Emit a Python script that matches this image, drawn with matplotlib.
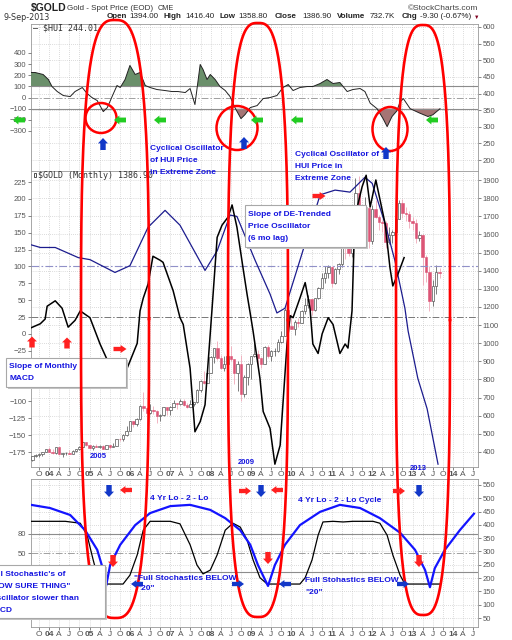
import numpy as np
import matplotlib.pyplot as plt
from matplotlib.patches import Ellipse, Rectangle, Polygon

plt.rcParams['font.family'] = ['Liberation Sans', 'DejaVu Sans']

# ---------------- data ----------------
# $HUI cyclical oscillator (top panel, left scale)
hui_t = [2003.55, 2003.65, 2003.85, 2003.98, 2004.07, 2004.20, 2004.35, 2004.52, 2004.64,
         2004.82, 2004.94, 2005.06, 2005.19, 2005.34, 2005.44, 2005.58, 2005.68, 2005.76,
         2005.88, 2006.00, 2006.13, 2006.25, 2006.38, 2006.50, 2006.67, 2006.87, 2007.04,
         2007.19, 2007.37, 2007.49, 2007.61, 2007.74, 2007.81, 2007.91, 2007.99, 2008.11,
         2008.23, 2008.36, 2008.48, 2008.60, 2008.75, 2008.85, 2008.98, 2009.15, 2009.30,
         2009.47, 2009.64, 2009.79, 2009.92, 2010.04, 2010.21, 2010.39, 2010.53, 2010.71,
         2010.88, 2011.03, 2011.20, 2011.38, 2011.52, 2011.70, 2011.82, 2011.95, 2012.12,
         2012.27, 2012.37, 2012.49, 2012.61, 2012.69, 2012.77, 2012.94, 2013.18, 2013.38,
         2013.50, 2013.68]
hui_osc = [225, 225, 207, 162, 99, 54, 18, 9, 54,
           90, 36, 0, -27, -126, -90, 27, 108, 90,
           162, 288, 207, 225, 108, 90, 72, 63, 54,
           54, 45, 81, -63, 297, 252, 162, 207, 162,
           99, 63, 9, -90, -189, -153, -90, -72, -9,
           0, 18, 90, 117, 63, 90, 99, 99, 126,
           162, 126, 135, 54, 72, 81, 54, -50, -100,
           -190, -261, -170, -120, -40, -9, -100, -140, -170,
           -155, -100]

# slope of de-trended price oscillator (blue, middle panel, left scale)
dpo_t = [2003.55, 2003.78, 2004.15, 2004.72, 2005.01, 2005.63, 2006.00, 2006.45, 2006.87,
         2007.24, 2007.86, 2008.16, 2008.48, 2008.65, 2009.10, 2009.47, 2009.64, 2009.84,
         2010.21, 2010.71, 2011.08, 2011.45, 2011.82, 2012.00, 2012.32, 2012.56, 2012.81,
         2012.89, 2013.13, 2013.36, 2013.63]
dpo_v = [132, 128, 128, 113, 110, 91, 101, 158, 183,
         161, 94, 123, 176, 174, 109, 59, 31, 38,
         109, 206, 213, 210, 232, 223, 163, 109, 38,
         4, -66, -111, -193]

# slope of monthly MACD (black, middle panel, left scale)
macd_t = [2003.55, 2003.78, 2003.90, 2003.95, 2004.15, 2004.32, 2004.47, 2004.64, 2004.77,
          2005.01, 2005.26, 2005.60, 2005.93, 2006.18, 2006.25, 2006.33, 2006.45, 2006.57,
          2006.75, 2006.82, 2007.07, 2007.24, 2007.32, 2007.49, 2007.61, 2007.74, 2007.86,
          2008.03, 2008.16, 2008.28, 2008.43, 2008.53, 2008.65, 2008.80, 2008.90, 2008.98,
          2009.05, 2009.22, 2009.30, 2009.47, 2009.59, 2009.72, 2009.89, 2009.97, 2010.04,
          2010.21, 2010.34, 2010.46, 2010.53, 2010.66, 2010.76, 2010.91, 2011.03, 2011.20,
          2011.33, 2011.40, 2011.50, 2011.57, 2011.75, 2011.85, 2011.95, 2012.09, 2012.32,
          2012.44, 2012.51, 2012.64, 2012.79]
macd_v = [9, 15, 22, 41, 49, 38, 10, 20, 34,
          24, -15, -60, -51, -14, 34, 53, 74, 115,
          109, 106, 64, 24, 14, -51, -145, -130, -105,
          34, 143, 161, 173, 191, 158, 98, 59, 30,
          4, -66, -115, -140, -193, -165, -15, 27, 24,
          53, 76, 38, -15, -29, 0, 24, 14, -29,
          -15, -21, 34, 173, 218, 235, 188, 228, 163,
          98, 71, 89, 113]

# monthly gold candles, Aug 2003 .. Sep 2013 (right scale)
gold_first_month = (2003, 8)
gold_first_open = 354
gold_close = [375, 385, 386, 398, 417,
              400, 396, 426, 387, 394, 394, 391, 408, 416, 429, 453, 438,
              422, 435, 428, 435, 417, 437, 429, 433, 473, 470, 495, 517,
              569, 556, 582, 654, 643, 614, 633, 624, 599, 604, 646, 632,
              650, 669, 663, 680, 659, 650, 665, 673, 743, 789, 783, 834,
              923, 972, 916, 863, 886, 930, 913, 833, 884, 718, 816, 884,
              928, 942, 916, 883, 979, 927, 955, 955, 1008, 1040, 1182, 1097,
              1081, 1118, 1113, 1180, 1212, 1244, 1181, 1248, 1307, 1359, 1386, 1421,
              1333, 1411, 1439, 1556, 1536, 1500, 1628, 1826, 1620, 1722, 1746, 1566,
              1740, 1697, 1669, 1664, 1561, 1598, 1615, 1687, 1776, 1719, 1713, 1675,
              1664, 1579, 1596, 1476, 1393, 1234, 1313, 1395, 1387]
gold_high = [377, 390, 392, 400, 417,
             427, 418, 429, 427, 396, 400, 409, 410, 417, 431, 455, 456,
             439, 437, 445, 437, 436, 441, 438, 447, 474, 479, 497, 541,
             570, 573, 586, 659, 730, 647, 665, 655, 633, 612, 649, 644,
             654, 689, 669, 693, 690, 671, 684, 675, 745, 795, 845, 840,
             932, 975, 1011, 934, 930, 934, 987, 914, 900, 935, 824, 888,
             931, 1006, 962, 924, 982, 989, 960, 973, 1024, 1070, 1195, 1226,
             1161, 1127, 1140, 1181, 1249, 1265, 1244, 1248, 1310, 1388, 1424, 1431,
             1424, 1414, 1445, 1569, 1577, 1556, 1632, 1913, 1921, 1764, 1805, 1764,
             1764, 1791, 1710, 1680, 1672, 1640, 1627, 1694, 1789, 1795, 1754, 1727,
             1697, 1684, 1617, 1605, 1488, 1425, 1348, 1434, 1416]
gold_low = [351, 372, 370, 379, 398,
            399, 390, 390, 383, 372, 383, 389, 386, 400, 411, 425, 431,
            418, 411, 425, 421, 414, 414, 418, 428, 433, 463, 458, 488,
            516, 536, 543, 574, 624, 543, 607, 610, 560, 570, 600, 605,
            603, 647, 636, 660, 652, 642, 646, 652, 668, 731, 775, 781,
            833, 888, 910, 860, 848, 862, 904, 774, 736, 681, 705, 772,
            801, 925, 866, 865, 883, 920, 904, 930, 950, 999, 1040, 1075,
            1076, 1045, 1088, 1112, 1162, 1195, 1157, 1176, 1243, 1308, 1331, 1359,
            1309, 1327, 1382, 1422, 1463, 1481, 1478, 1618, 1535, 1603, 1670, 1523,
            1545, 1690, 1627, 1612, 1527, 1547, 1555, 1583, 1684, 1690, 1672, 1636,
            1626, 1555, 1562, 1321, 1338, 1180, 1207, 1272, 1359]

# full stochastics (black) and 4 yr low-to-low cycle (blue), bottom panel
stoch_t = [2003.55, 2004.40, 2004.77, 2004.94, 2005.09, 2005.19, 2005.26, 2005.83, 2006.00,
           2006.18, 2006.33, 2006.50, 2007.00, 2007.24, 2007.49, 2007.66, 2007.81, 2007.99,
           2008.16, 2008.36, 2008.55, 2008.73, 2008.90, 2009.05, 2009.22, 2009.40, 2010.21,
           2010.34, 2010.51, 2010.66, 2010.78, 2011.03, 2011.28, 2011.52, 2012.02, 2012.19,
           2012.37, 2012.51, 2012.69, 2012.81, 2013.68]
stoch_v = [100, 100, 97, 78, 39, 15, 1, 1, 15,
           47, 86, 100, 100, 96, 63, 31, 17, 23,
           47, 86, 97, 91, 71, 39, 11, 1, 1,
           11, 39, 78, 99, 100, 99, 100, 100, 97,
           78, 47, 15, 1, 1]
cycle_t = [2003.55, 2004.02, 2004.52, 2004.89, 2005.19, 2005.34, 2005.41, 2005.51, 2005.76,
           2006.13, 2006.50, 2007.00, 2007.49, 2007.99, 2008.36, 2008.73, 2008.98, 2009.17,
           2009.42, 2009.59, 2009.84, 2010.21, 2010.71, 2011.20, 2011.70, 2012.19, 2012.69,
           2013.06, 2013.31, 2013.43, 2013.55, 2013.80, 2014.17, 2014.52]
cycle_v = [126, 121, 110, 86, 55, 23, -2, 31, 63,
           94, 113, 124, 126, 118, 105, 86, 63, 31,
           -2, 31, 63, 94, 115, 126, 121, 105, 82,
           55, 23, -4, 26, 55, 86, 112]

# ---------------- figure ----------------
W, H = 512, 640
fig = plt.figure(figsize=(W / 100, H / 100), dpi=100)
fig.patch.set_facecolor('white')

X0, X1 = 2003.55, 2014.62
LEFT, RIGHT = 31, 478
qticks = np.arange(2003.75, 2014.6, 0.25)
qlabels = []
for t in qticks:
    yr = int(np.floor(t + 1e-6))
    q = int(round((t - yr) * 4))
    qlabels.append(['%02d' % (yr % 100), 'A', 'J', 'O'][q])

TXT = '#555555'
DASHDOT = (0, (7, 2, 1.5, 2))


def panel(top, bottom, rlim, rticks, llim, lticks, xlabels):
    ax = fig.add_axes([LEFT / W, 1 - bottom / H, (RIGHT - LEFT) / W, (bottom - top) / H])
    tw = ax.twinx()
    ax.set_xlim(X0, X1)
    ax.set_ylim(*rlim)
    ax.set_yticks(rticks)
    ax.yaxis.tick_right()
    ax.set_xticks(qticks)
    ax.set_xticklabels(qlabels if xlabels else [])
    for lab in ax.get_xticklabels():
        if lab.get_text().isdigit():
            lab.set_fontweight('bold')
    ax.grid(True, ls=(0, (1, 2)), color='#bbbbbb', lw=0.5)
    ax.tick_params(labelsize=5.5, colors=TXT, length=2, width=0.5, pad=1.5)
    ax.tick_params(axis='x', labelsize=6, pad=1)
    for s in ax.spines.values():
        s.set_color('#999999')
        s.set_linewidth(0.6)
    tw.yaxis.tick_left()
    tw.set_ylim(*llim)
    tw.set_yticks(lticks)
    tw.tick_params(labelsize=5.5, colors=TXT, length=2, width=0.5, pad=1.5)
    for s in tw.spines.values():
        s.set_visible(False)
    return ax, tw


# top panel: HUI oscillator
ax1, tw1 = panel(24, 171, (167, 609), np.arange(200, 601, 50),
                 (-659, 660), np.arange(-300, 401, 100), False)
hui_t_a = np.array(hui_t)
hui_a = np.array(hui_osc)
tw1.fill_between(hui_t_a, hui_a, 100, where=hui_a > 100, interpolate=True,
                 color='#6a8f6a', lw=0)
tw1.fill_between(hui_t_a, hui_a, -100, where=hui_a < -100, interpolate=True,
                 color='#a57474', lw=0)
tw1.axhline(100, color='#8c8c8c', lw=0.8)
tw1.axhline(-100, color='#8c8c8c', lw=0.8)
tw1.axhline(0, color='#a0a0a0', lw=0.7, ls=DASHDOT)
tw1.plot(hui_t, hui_osc, color='#222222', lw=0.7)

# middle panel: gold monthly candles + oscillators
ax2, tw2 = panel(171, 467, (317, 1950), np.arange(400, 1901, 100),
                 (-197.2, 241.3), np.arange(-175, 226, 25), True)
y0, m0 = gold_first_month
prev = gold_first_open
for i, (c, hi, lo) in enumerate(zip(gold_close, gold_high, gold_low)):
    t = y0 + (m0 - 1 + i) / 12
    o = prev
    prev = c
    if c >= o:
        ax2.vlines(t, lo, hi, color='#666666', lw=0.6, zorder=2)
        ax2.bar(t, max(c - o, 2), bottom=o, width=0.06, color='white',
                edgecolor='#555555', lw=0.5, zorder=3)
    else:
        ax2.vlines(t, lo, hi, color='#f0a8b8', lw=0.6, zorder=2)
        ax2.bar(t, o - c, bottom=c, width=0.06, color='#dc5576',
                edgecolor='#dc5576', lw=0.4, zorder=3)
tw2.axhline(100, color='#9090c8', lw=0.8, ls=DASHDOT)
tw2.axhline(25, color='#777777', lw=0.7, ls=DASHDOT)
tw2.plot(dpo_t, dpo_v, color='#1c1c8e', lw=0.9)
tw2.plot(macd_t, macd_v, color='black', lw=1.1)

# bottom panel: stochastics + cycle
ax3, tw3 = panel(479, 627, (16.2, 572.5), np.arange(50, 551, 50),
                 (-66.8, 166.8), [20, 50, 80], True)
tw3.axhline(80, color='#8c8c8c', lw=0.8)
tw3.axhline(20, color='#8c8c8c', lw=0.8)
tw3.axhline(50, color='#a0a0a0', lw=0.7, ls=DASHDOT)
tw3.plot(stoch_t, stoch_v, color='black', lw=0.9)
tw3.plot(cycle_t, cycle_v, color='#1414ff', lw=1.6)

# ---------------- annotation overlay (pixel coordinates) ----------------
ov = fig.add_axes([0, 0, 1, 1])
ov.set_xlim(0, W)
ov.set_ylim(H, 0)
ov.axis('off')

BLUE_TXT = '#1515e0'


def oval(cx, cy, a, b, n=3.0):
    th = np.linspace(0, 2 * np.pi, 500)
    c, s = np.cos(th), np.sin(th)
    x = cx + a * np.sign(c) * np.abs(c) ** (2 / n)
    y = cy + b * np.sign(s) * np.abs(s) ** (2 / n)
    ov.plot(x, y, color='#ff0000', lw=1.9, zorder=4)


def arrow(x, y, d, color, L=12, Hh=9):
    hl = L * 0.45
    sw = Hh * 0.27
    pts = np.array([(-L / 2, -sw), (L / 2 - hl, -sw), (L / 2 - hl, -Hh / 2), (L / 2, 0),
                    (L / 2 - hl, Hh / 2), (L / 2 - hl, sw), (-L / 2, sw)])
    if d == 'l':
        pts[:, 0] *= -1
    elif d == 'u':
        pts = np.column_stack([pts[:, 1], -pts[:, 0]])
    elif d == 'd':
        pts = np.column_stack([pts[:, 1], pts[:, 0]])
    ov.add_patch(Polygon(pts + [x, y], closed=True, fc=color, ec='none', zorder=6))


def box(x, y, w, h, z):
    ov.add_patch(Rectangle((x + 2, y + 2), w, h, fc='#c4c4c4', ec='none', zorder=z))
    ov.add_patch(Rectangle((x, y), w, h, fc='white', ec='#a8a8a8', lw=0.8, zorder=z))


def note(x, y, s, ha='left', z=7, size=6):
    ov.text(x, y, s, ha=ha, va='center', fontsize=size, weight='bold',
            color=BLUE_TXT, zorder=z)


# header
ov.text(31, 8, r'\$GOLD', fontsize=7.5, weight='bold', va='center', color='#222222')
ov.text(67, 8, 'Gold - Spot Price (EOD)', fontsize=5.8, va='center', color='#333333')
ov.text(158, 8.5, 'CME', fontsize=5.2, va='center', color='#333333')
ov.text(478, 8, '\u00a9StockCharts.com', ha='right', fontsize=6, va='center', color='#444444')
ov.text(3, 17, '9-Sep-2013', fontsize=5.8, va='center', color='#333333', family='DejaVu Sans')
for x, s, bold in [(107, 'Open', True), (129, '1394.00', False), (163, 'High', True),
                   (185, '1416.40', False), (220, 'Low', True), (238, '1358.80', False),
                   (275, 'Close', True), (302, '1386.90', False), (337, 'Volume', True),
                   (370, '732.7K', False), (402, 'Chg', True), (420, '-9.30 (-0.67%)', False)]:
    ov.text(x, 17, s, fontsize=5.8, va='center', color='#222222',
            weight='bold' if bold else 'normal')
ov.text(474, 17, '\u25bc', fontsize=4, va='center', color='#800020')

ov.text(33, 28, '\u2014 \\$HUI 244.01', family='DejaVu Sans Mono', fontsize=6,
        va='center', color='#333333')
ov.add_patch(Rectangle((33.5, 173), 2.5, 4, fc='white', ec='#333333', lw=0.6, zorder=3))
ov.text(38, 175.5, '\\$GOLD (Monthly) 1386.90', family='DejaVu Sans Mono', fontsize=6,
        va='center', color='#333333')

# big red ovals and small circles
for cx, cy, a, b in [(115, 319, 34, 299), (258, 320, 30, 297), (423, 320, 27, 295)]:
    oval(cx, cy, a, b)
for cx, cy, w, h in [(101, 118, 31, 30), (237, 128, 41, 44), (390, 129, 35, 44)]:
    ov.add_patch(Ellipse((cx, cy), w, h, fill=False, ec='#ff0000', lw=1.8, zorder=4))

# arrows
GREEN, DBLUE, RED = '#22cc22', '#1238c8', '#ff2020'
for x in [19, 120, 160, 257, 297, 432]:
    arrow(x, 120, 'l', GREEN, 12, 9)
for x, y in [(103, 144), (244, 143), (386, 153)]:
    arrow(x, y, 'u', DBLUE, 12, 10)
for x, y in [(32, 342), (67, 343)]:
    arrow(x, y, 'u', RED, 11, 10)
for x, y in [(120, 349), (319, 196)]:
    arrow(x, y, 'r', RED, 13, 8)
for x in [109, 261, 419]:
    arrow(x, 491, 'd', DBLUE, 12, 10)
for x in [126, 277]:
    arrow(x, 490, 'l', RED, 12, 8)
for x in [245, 399]:
    arrow(x, 491, 'r', RED, 12, 8)
for x, y in [(113, 561), (268, 558), (419, 561)]:
    arrow(x, y, 'd', RED, 12, 10)
for x in [137, 285]:
    arrow(x, 584, 'l', DBLUE, 12, 8)
for x in [238, 403]:
    arrow(x, 584, 'r', DBLUE, 12, 8)

# text boxes
box(245, 205, 121, 42, 5)
note(248, 214, 'Slope of DE-Trended')
note(248, 227, 'Price Oscillator')
note(248, 239, '(6 mo lag)')
box(6, 358, 120, 29, 3)
note(9, 367, 'Slope of Monthly')
note(9, 379, 'MACD')
box(-6, 565, 111, 53, 5)
note(65, 575, "Full Stochastic's of", ha='right')
note(70, 587, '"NOW SURE THING"', ha='right')
note(79, 599, 'Oscillator slower than', ha='right')
note(12, 611, 'MACD', ha='right')

# free annotations
note(150, 148, 'Cyclical Oscillator')
note(150, 161, 'of HUI Price')
note(150, 173, 'in Extreme Zone')
note(295, 155, 'Cyclical Oscillator of')
note(295, 167, 'HUI Price in')
note(295, 179, 'Extreme Zone')
note(98, 457, '2005', ha='center', size=5.5)
note(246, 462, '2009', ha='center', size=5.5)
note(418, 469, '2013', ha='center', size=5.5)
note(150, 498, '4 Yr Lo - 2 - Lo')
note(298, 500, '4 Yr Lo - 2 - Lo Cycle')
note(134, 578, '"Full Stochastics BELOW')
note(137, 589, '"20"')
note(305, 580, 'Full Stohastics BELOW')
note(305, 592, '"20"')

fig.savefig('out.png', dpi=100)
